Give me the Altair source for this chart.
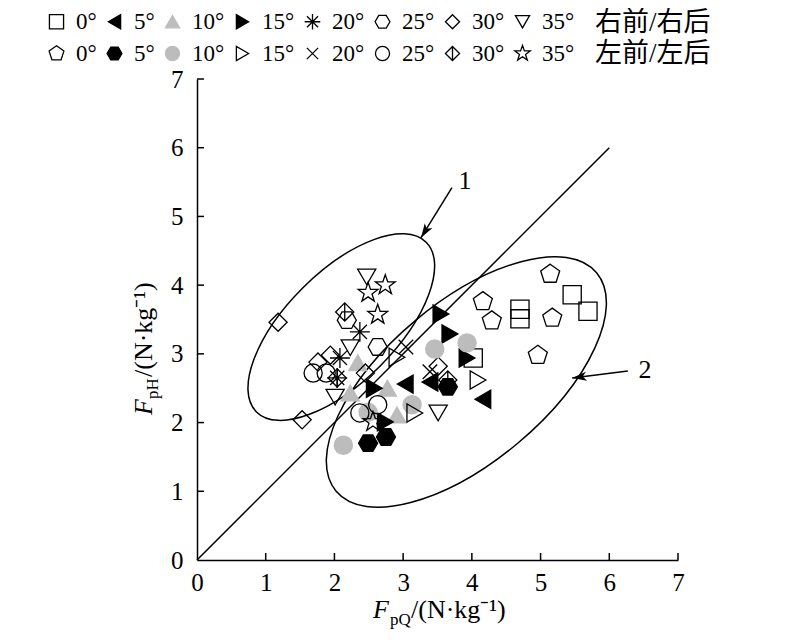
import altair as alt
import pandas as pd

# ---- data (x = FpQ, y = FpH, N/kg) ----
R0_x = [5.46, 5.69, 4.70, 4.70, 4.02]
R0_y = [3.86, 3.62, 3.65, 3.51, 2.94]
R5_x = [3.03, 3.39, 4.16]
R5_y = [2.56, 2.59, 2.34]
R10_x = [2.34, 2.23, 2.77, 2.91]
R10_y = [2.87, 2.43, 2.50, 2.11]
R15_x = [3.55, 3.68, 3.93, 2.58, 2.74]
R15_y = [3.58, 3.29, 2.94, 2.50, 2.01]
R20_x = [2.37, 2.08, 2.04]
R20_y = [3.32, 2.94, 2.65]
R25_x = [2.18, 2.63]
R25_y = [3.49, 3.10]
R30_x = [1.18, 1.53, 1.76, 1.94, 2.45, 3.51]
R30_y = [3.46, 2.04, 2.88, 2.98, 2.72, 2.82]
R35_x = [2.47, 2.23, 2.01, 3.51]
R35_y = [4.12, 3.09, 2.37, 2.14]
L0_x = [5.14, 4.16, 4.29, 5.17, 4.96]
L0_y = [4.16, 3.76, 3.48, 3.52, 2.98]
L5_x = [2.49, 2.75, 3.65]
L5_y = [1.70, 1.79, 2.52]
L10_x = [2.13, 3.46, 3.93, 3.13, 2.49]
L10_y = [1.67, 3.07, 3.16, 2.26, 2.15]
L15_x = [4.09, 2.91, 3.17]
L15_y = [2.62, 2.95, 2.14]
L20_x = [3.04, 3.39]
L20_y = [3.10, 2.74]
L25_x = [1.69, 1.88, 2.63, 2.37]
L25_y = [2.72, 2.72, 2.26, 2.14]
L30_x = [2.15, 2.04, 3.65]
L30_y = [3.61, 2.65, 2.62]
L35_x = [2.74, 2.49, 2.63, 2.56]
L35_y = [4.00, 3.89, 3.57, 2.01]

series_keys = ["R0", "R5", "R10", "R15", "R20", "R25", "R30", "R35",
               "L0", "L5", "L10", "L15", "L20", "L25", "L30", "L35"]
series_data = {
    "R0": (R0_x, R0_y), "R5": (R5_x, R5_y), "R10": (R10_x, R10_y), "R15": (R15_x, R15_y),
    "R20": (R20_x, R20_y), "R25": (R25_x, R25_y), "R30": (R30_x, R30_y), "R35": (R35_x, R35_y),
    "L0": (L0_x, L0_y), "L5": (L5_x, L5_y), "L10": (L10_x, L10_y), "L15": (L15_x, L15_y),
    "L20": (L20_x, L20_y), "L25": (L25_x, L25_y), "L30": (L30_x, L30_y), "L35": (L35_x, L35_y),
}

# reference line y = x
line_x = [0, 6]
line_y = [0, 6]

# region ellipses (centres)
ell_cx = [2.10, 3.92]
ell_cy = [3.39, 2.59]

# annotation labels and arrows
ann_x = [3.90, 6.52]
ann_y = [5.52, 2.77]
ann_text = ["1", "2"]
arr_x1 = [3.71, 6.27]
arr_y1 = [5.42, 2.75]
arr_x2 = [3.26, 5.46]
arr_y2 = [4.69, 2.65]
arr_angle = [212, 263]

tick_vals = [1, 2, 3, 4, 5, 6, 7]
axis_vals = [0, 1, 2, 3, 4, 5, 6, 7]

# ---- shapes ----
PENT = "M0,-1.1L1.046,-0.34L0.647,0.89L-0.647,0.89L-1.046,-0.34Z"
HEX = "M1.05,0L0.525,0.91L-0.525,0.91L-1.05,0L-0.525,-0.91L0.525,-0.91Z"
AST = "M0,-1.1L0,1.1M-1.1,0L1.1,0M-0.78,-0.78L0.78,0.78M-0.78,0.78L0.78,-0.78"
XCR = "M-0.8,-0.8L0.8,0.8M-0.8,0.8L0.8,-0.8"
DIAL = "M0,-1L1,0L0,1L-1,0ZM0,-1L0,1"
STAR = ("M0,-1.15L0.27,-0.37L1.09,-0.36L0.43,0.14L0.68,0.93L0,0.46"
        "L-0.68,0.93L-0.43,0.14L-1.09,-0.36L-0.27,-0.37Z")
ARROW = "M0,0L-0.55,1.75L0,1.3L0.55,1.75Z"


def ellipse_path(r):
    k = 0.5523
    return (f"M1,0C1,{k*r:.3f} {k:.3f},{r:.3f} 0,{r:.3f}"
            f"C{-k:.3f},{r:.3f} -1,{k*r:.3f} -1,0"
            f"C-1,{-k*r:.3f} {-k:.3f},{-r:.3f} 0,{-r:.3f}"
            f"C{k:.3f},{-r:.3f} 1,{-k*r:.3f} 1,0Z")


GRAY = "#bcbcbc"
shape_range = ["square", "triangle-left", "triangle-up", "triangle-right", AST, HEX, "diamond", "triangle-down",
               PENT, HEX, "circle", "triangle-right", XCR, "circle", DIAL, STAR]
fill_range = ["transparent", "black", GRAY, "black", "transparent", "transparent", "transparent", "transparent",
              "transparent", "black", GRAY, "transparent", "transparent", "transparent", "transparent", "transparent"]
stroke_range = ["black", "black", GRAY, "black", "black", "black", "black", "black",
                "black", "black", GRAY, "black", "black", "black", "black", "black"]

rows = []
for k in series_keys:
    xs, ys = series_data[k]
    for a, b in zip(xs, ys):
        rows.append({"s": k, "x": a, "y": b})
pts = pd.DataFrame(rows)

SERIF = "Liberation Serif"
xs_scale = alt.Scale(domain=[0, 7], nice=False, zero=False)
ys_scale = alt.Scale(domain=[0, 7], nice=False, zero=False)

leg = alt.Legend(
    title=None, orient="none", legendX=-152, legendY=-69, direction="horizontal",
    columns=8, gridAlign="each", columnPadding=6, rowPadding=8, padding=0,
    symbolSize=200, symbolStrokeWidth=1.3, labelFont=SERIF, labelFontSize=23,
    labelFontWeight="normal", labelColor="black", labelOffset=8,
    labelExpr="slice(datum.label, 1) + '°'",
)

points = alt.Chart(pts).mark_point(opacity=1, strokeWidth=1.3, size=330).encode(
    x=alt.X("x:Q", scale=xs_scale, axis=alt.Axis(values=axis_vals, title=None, format="d",
                                                 labelFont=SERIF)),
    y=alt.Y("y:Q", scale=ys_scale, axis=alt.Axis(values=axis_vals, title=None, format="d",
                                                 labelFont=SERIF)),
    shape=alt.Shape("s:N", scale=alt.Scale(domain=series_keys, range=shape_range), legend=leg),
    fill=alt.Fill("s:N", scale=alt.Scale(domain=series_keys, range=fill_range), legend=leg),
    stroke=alt.Stroke("s:N", scale=alt.Scale(domain=series_keys, range=stroke_range), legend=leg),
)

diag = alt.Chart(pd.DataFrame({"x": line_x, "y": line_y})).mark_line(
    color="black", strokeWidth=1.5).encode(
    x=alt.X("x:Q", scale=xs_scale), y=alt.Y("y:Q", scale=ys_scale))

ell_df = pd.DataFrame({"x": ell_cx, "y": ell_cy})
ell1 = alt.Chart(ell_df.iloc[[0]]).mark_point(
    shape=ellipse_path(0.458), size=57600, angle=315, color="black",
    strokeWidth=1.5, opacity=1, filled=False).encode(
    x=alt.X("x:Q", scale=xs_scale), y=alt.Y("y:Q", scale=ys_scale))
ell2 = alt.Chart(ell_df.iloc[[1]]).mark_point(
    shape=ellipse_path(0.47), size=115600, angle=320, color="black",
    strokeWidth=1.5, opacity=1, filled=False).encode(
    x=alt.X("x:Q", scale=xs_scale), y=alt.Y("y:Q", scale=ys_scale))

arr_df = pd.DataFrame({"x1": arr_x1, "y1": arr_y1, "x2": arr_x2, "y2": arr_y2, "a": arr_angle})
arr_lines = alt.Chart(arr_df).mark_rule(color="black", strokeWidth=1.5).encode(
    x=alt.X("x1:Q", scale=xs_scale), y=alt.Y("y1:Q", scale=ys_scale),
    x2="x2:Q", y2="y2:Q")
arr_heads = alt.Chart(arr_df).mark_point(
    shape=ARROW, size=270, filled=True, color="black", opacity=1).encode(
    x=alt.X("x2:Q", scale=xs_scale), y=alt.Y("y2:Q", scale=ys_scale),
    angle=alt.Angle("a:Q", scale=None))

ann = alt.Chart(pd.DataFrame({"x": ann_x, "y": ann_y, "t": ann_text})).mark_text(
    font=SERIF, fontSize=26, color="black", align="center", baseline="middle").encode(
    x=alt.X("x:Q", scale=xs_scale), y=alt.Y("y:Q", scale=ys_scale), text="t:N")

tick_df = pd.DataFrame({"t": tick_vals})
xticks = alt.Chart(tick_df).mark_rule(color="black", strokeWidth=1.5).encode(
    x=alt.X("t:Q", scale=xs_scale), y=alt.value(481), y2=alt.value(474))
yticks = alt.Chart(tick_df).mark_rule(color="black", strokeWidth=1.5).encode(
    y=alt.Y("t:Q", scale=ys_scale), x=alt.value(0), x2=alt.value(7))

one = pd.DataFrame({"a": [0]})


def txt(text, x, y, size=26, align="left", italic=False, angle=0, font=SERIF, baseline="alphabetic"):
    kw = dict(font=font, fontSize=size, color="black", align=align, baseline=baseline, text=text)
    if italic:
        kw["fontStyle"] = "italic"
    if angle:
        kw["angle"] = angle
    return alt.Chart(one).mark_text(**kw).encode(x=alt.value(x), y=alt.value(y))


CJK = "Liberation Serif, Noto Sans CJK SC"
titles = [
    txt("F", 192, 539, align="right", italic=True),
    txt("pQ", 193, 546, size=17),
    txt("/(N·kg⁻¹)", 214, 539),
    txt("F", -45, 320, align="right", italic=True, angle=270),
    txt("pH", -39, 320, size=17, angle=270),
    txt("/(N·kg⁻¹)", -45, 298, angle=270),
    txt("右前/右后", 398, -56, size=27, font=CJK, baseline="middle"),
    txt("左前/左后", 398, -25, size=27, font=CJK, baseline="middle"),
]

chart = alt.layer(ell1, ell2, diag, points, arr_lines, arr_heads, ann, xticks, yticks, *titles).properties(
    width=481, height=481,
    autosize=alt.AutoSizeParams(type="none"),
    padding={"left": 189, "top": 71, "right": 114, "bottom": 72},
).configure(font=SERIF).configure_view(stroke=None).configure_axis(
    grid=False, tickSize=0, domainColor="black", domainWidth=1.5,
    labelFont=SERIF, labelFontSize=25, labelColor="black", labelFlush=False,
).configure_axisX(labelPadding=10).configure_axisY(labelPadding=14).configure_legend(
    labelFont=SERIF, labelFontSize=23, labelColor="black")

chart.save("out.html", embed_options={"renderer": "svg", "actions": False})
